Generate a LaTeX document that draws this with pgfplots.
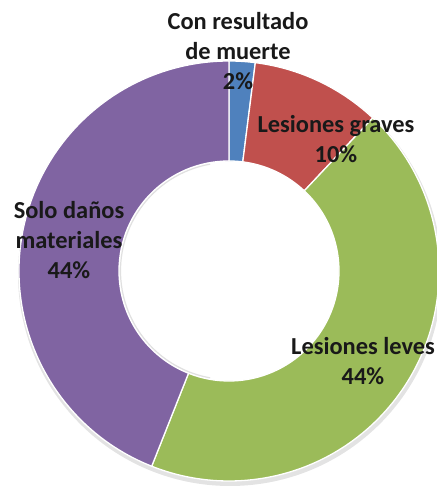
\documentclass[border=0pt]{standalone}
\usepackage{pgfplots}
\pgfplotsset{compat=1.18}
\usepackage{pgfplotstable}
\usepackage{fontspec}
\setmainfont{Carlito}
\definecolor{cA}{HTML}{4F81BD}
\definecolor{cB}{HTML}{C0504D}
\definecolor{cC}{HTML}{9BBB59}
\definecolor{cD}{HTML}{8064A2}
\pgfplotstableread{
name value
muerte 2
graves 10
leves 44
materiales 44
}\slices
\pgfplotstablegetelem{0}{value}\of\slices \let\vA\pgfplotsretval
\pgfplotstablegetelem{1}{value}\of\slices \let\vB\pgfplotsretval
\pgfplotstablegetelem{2}{value}\of\slices \let\vC\pgfplotsretval
\pgfplotstablegetelem{3}{value}\of\slices \let\vD\pgfplotsretval
\pgfmathsetmacro{\tot}{\vA+\vB+\vC+\vD}
\pgfmathsetmacro{\aA}{90}
\pgfmathsetmacro{\aB}{\aA-360*\vA/\tot}
\pgfmathsetmacro{\aC}{\aB-360*\vB/\tot}
\pgfmathsetmacro{\aD}{\aC-360*\vC/\tot}
\pgfmathsetmacro{\aE}{\aD-360*\vD/\tot}
\newcommand{\sector}[3]{%
  \fill[#1, draw=white, line width=1.3pt, line join=round]
    ([shift={(#2:210bp)}]axis cs:229,215) arc[start angle=#2, end angle=#3, radius=210bp]
    -- ([shift={(#3:110bp)}]axis cs:229,215) arc[start angle=#3, end angle=#2, radius=110bp]
    -- cycle;}
\begin{document}
\begin{tikzpicture}
\useasboundingbox (0,0) rectangle (437bp,486bp);
\begin{axis}[at={(0,0)}, anchor=south west,
  width=437bp, height=486bp, scale only axis,
  xmin=0, xmax=437, ymin=0, ymax=486, enlargelimits=false,
  hide axis, clip=false]
\fill[black!18, opacity=0.6] (axis cs:230,212) circle[radius=212bp];
\fill[white] (axis cs:229,215) circle[radius=111bp];
\sector{cA}{\aA}{\aB}
\sector{cB}{\aB}{\aC}
\sector{cC}{\aC}{\aD}
\sector{cD}{\aD}{\aE}
\draw[black!12, line width=1.2pt] ([shift={(100:108.5bp)}]axis cs:229,215) arc[start angle=100, end angle=260, radius=108.5bp];
\begin{scope}[every node/.style={align=center, text=black!90, font=\bfseries\fontsize{24.5}{30.5}\selectfont, inner sep=0pt}]
\node at (axis cs:238,435) {Con resultado\\de muerte\\2\%};
\node at (axis cs:336,347) {Lesiones graves\\10\%};
\node at (axis cs:363,125) {Lesiones leves\\44\%};
\node at (axis cs:69,246) {Solo daños\\materiales\\44\%};
\end{scope}
\end{axis}
\end{tikzpicture}
\end{document}
